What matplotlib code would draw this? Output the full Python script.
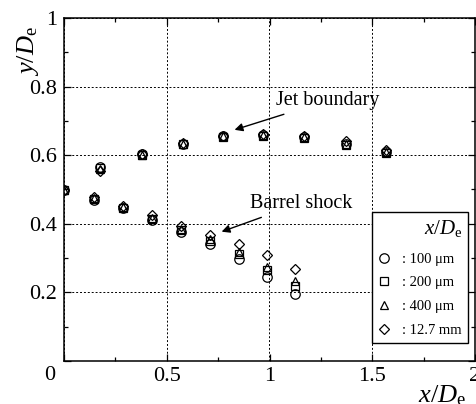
import matplotlib

matplotlib.use("Agg")

import matplotlib.pyplot as plt
from matplotlib.ticker import MultipleLocator

plt.rcParams["font.family"] = ["Liberation Serif", "DejaVu Serif"]
plt.rcParams["mathtext.fontset"] = "custom"
plt.rcParams["mathtext.rm"] = "Liberation Serif"
plt.rcParams["mathtext.it"] = "Liberation Serif:italic"

# jet boundary (upper branch)
x_upper = [0.0, 0.175, 0.378, 0.578, 0.772, 0.966, 1.17, 1.37, 1.568]
y_upper_100um = [0.500, 0.566, 0.603, 0.634, 0.655, 0.658, 0.652, 0.632, 0.608]
y_upper_200um = [0.500, 0.563, 0.602, 0.633, 0.654, 0.657, 0.651, 0.630, 0.607]
y_upper_400um = [0.500, 0.560, 0.602, 0.634, 0.655, 0.658, 0.652, 0.633, 0.610]
y_upper_127mm = [0.500, 0.555, 0.603, 0.636, 0.657, 0.661, 0.655, 0.640, 0.616]

# barrel shock (lower branch)
x_lower = [0.146, 0.287, 0.428, 0.57, 0.71, 0.85, 0.99, 1.126]
y_lower_100um = [0.470, 0.445, 0.410, 0.377, 0.342, 0.298, 0.245, 0.196]
y_lower_200um = [0.472, 0.447, 0.413, 0.382, 0.350, 0.312, 0.266, 0.219]
y_lower_400um = [0.474, 0.449, 0.416, 0.386, 0.356, 0.318, 0.275, 0.233]
y_lower_127mm = [0.478, 0.452, 0.425, 0.395, 0.368, 0.342, 0.310, 0.268]

labels = [": 100 \u03bcm", ": 200 \u03bcm", ": 400 \u03bcm", ": 12.7 mm"]
markers = ["o", "s", "^", "D"]
sizes = [6.8, 5.5, 6.0, 5.2]

fig = plt.figure(figsize=(4.77, 4.04), dpi=100)
ax = fig.add_axes([64 / 477, 1 - 361 / 404, 411 / 477, 343 / 404])

series = [
    (y_upper_100um, y_lower_100um),
    (y_upper_200um, y_lower_200um),
    (y_upper_400um, y_lower_400um),
    (y_upper_127mm, y_lower_127mm),
]
for (yu, yl), m, s, lab in zip(series, markers, sizes, labels):
    ax.plot(x_upper + x_lower, yu + yl, linestyle="none", marker=m, ms=s,
            mfc="none", mec="black", mew=0.9, label=lab)

ax.set_xlim(0, 2)
ax.set_ylim(0, 1)
ax.xaxis.set_major_locator(MultipleLocator(0.5))
ax.xaxis.set_minor_locator(MultipleLocator(0.25))
ax.yaxis.set_major_locator(MultipleLocator(0.2))
ax.yaxis.set_minor_locator(MultipleLocator(0.1))
ax.set_xticks([0, 0.5, 1, 1.5, 2])
ax.set_xticklabels(["", "0.5", "1", "1.5", "2"])
ax.set_yticks([0, 0.2, 0.4, 0.6, 0.8, 1])
ax.set_yticklabels(["", "0.2", "0.4", "0.6", "0.8", "1"])
ax.tick_params(which="both", direction="in", top=True, right=True,
               labelsize=16, width=0.9)
ax.tick_params(which="major", length=5)
ax.tick_params(which="minor", length=3)
ax.tick_params(axis="x", pad=4)
ax.tick_params(axis="y", pad=5)
for sp in ax.spines.values():
    sp.set_linewidth(1.1)

ax.grid(True, which="major", color="black", linestyle=(0, (2, 2)),
        linewidth=0.7)

fig.text(50 / 477, 1 - 375 / 404, "0", fontsize=16, ha="center", va="center")

ax.text(-0.088, 0.905, r"$y/D_\mathrm{e}$", transform=ax.transAxes,
        rotation=90, fontsize=19, ha="center", va="center")
ax.text(0.92, -0.1, r"$x/D_\mathrm{e}$", transform=ax.transAxes,
        fontsize=19, ha="center", va="center")

ax.annotate("Jet boundary", xy=(0.83, 0.674), xytext=(1.034, 0.76),
            fontsize=14.5, va="center", ha="left",
            arrowprops=dict(arrowstyle="-|>", color="black", lw=1,
                            shrinkA=4, shrinkB=0, mutation_scale=12))
ax.annotate("Barrel shock", xy=(0.767, 0.377), xytext=(0.903, 0.46),
            fontsize=14.5, va="center", ha="left",
            arrowprops=dict(arrowstyle="-|>", color="black", lw=1,
                            shrinkA=4, shrinkB=0, mutation_scale=12))

leg = ax.legend(loc="upper left", bbox_to_anchor=(0.749, 0.435),
                title=r"$x/D_\mathrm{e}$", title_fontsize=15, fontsize=10.5,
                frameon=True, fancybox=False, edgecolor="black",
                framealpha=1, alignment="right", handlelength=0.8,
                handletextpad=0.9, labelspacing=0.72, borderpad=0.4,
                borderaxespad=0)
leg.get_frame().set_linewidth(1.0)
leg._legend_box.sep = 10

fig.savefig("out.png", dpi=100)
